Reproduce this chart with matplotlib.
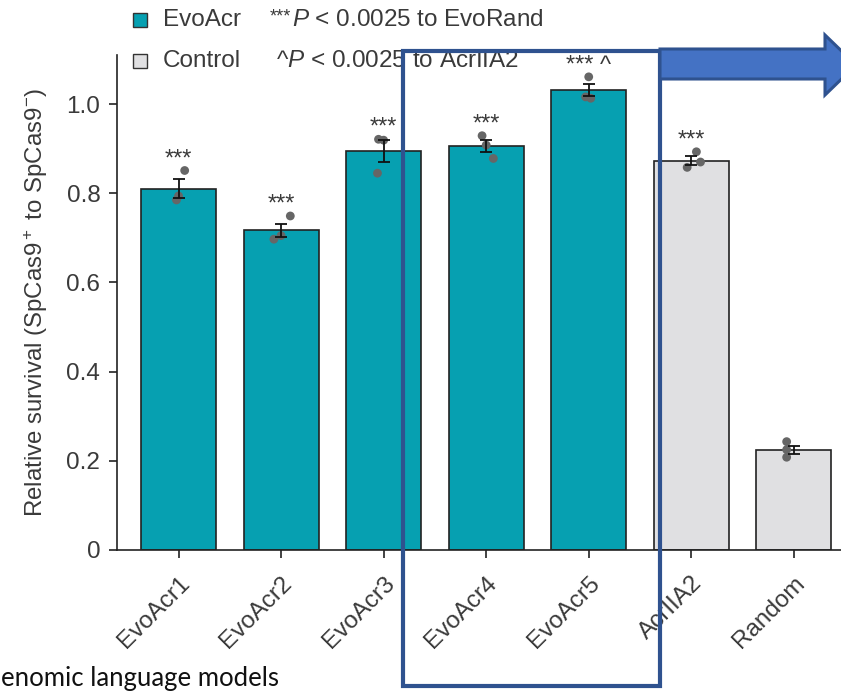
import matplotlib
matplotlib.use('Agg')
import matplotlib.pyplot as plt
from matplotlib.patches import Rectangle, Polygon
import numpy as np

plt.rcParams['font.family'] = ['Liberation Sans', 'DejaVu Sans']
plt.rcParams['mathtext.fontset'] = 'custom'
plt.rcParams['mathtext.rm'] = 'Liberation Sans'
plt.rcParams['mathtext.it'] = 'Liberation Sans:italic'

# dados
nomes = ['EvoAcr1', 'EvoAcr2', 'EvoAcr3', 'EvoAcr4', 'EvoAcr5', 'AcrIIA2', 'Random']
media = [0.810, 0.717, 0.895, 0.906, 1.031, 0.873, 0.224]
erro = [0.021, 0.015, 0.024, 0.014, 0.014, 0.010, 0.009]
replicas = [
    [0.851, 0.785, 0.794],
    [0.749, 0.697, 0.705],
    [0.921, 0.845, 0.919],
    [0.929, 0.878, 0.908],
    [1.061, 1.013, 1.016],
    [0.893, 0.858, 0.870],
    [0.243, 0.208, 0.225],
]
signif = ['***', '***', '***', '***', '*** ^', '***', '']
grupo = ['EvoAcr'] * 5 + ['Control'] * 2

# deslocamento horizontal dos pontos
jitter = [
    [0.06, -0.02, 0.0],
    [0.09, -0.07, 0.0],
    [-0.05, -0.06, 0.0],
    [-0.04, 0.07, 0.0],
    [0.0, 0.02, -0.03],
    [0.05, -0.04, 0.09],
    [-0.07, -0.07, -0.07],
]

cor = {'EvoAcr': '#06a0b1', 'Control': '#e0e0e2'}
texto = '#3a3a3a'

W, H = 841, 691
fig = plt.figure(figsize=(W / 100, H / 100), dpi=100)
ax = fig.add_axes([117 / W, 1 - 550 / H, 1 - 117 / W, (550 - 55) / H])

x = np.arange(len(nomes))
ax.bar(x, media, width=0.73, color=[cor[g] for g in grupo],
       edgecolor='#222222', linewidth=1.2, zorder=2)

for i in range(len(nomes)):
    ax.scatter(x[i] + np.array(jitter[i]), replicas[i], s=40,
               color='#666666', edgecolor='none', zorder=3)

ax.errorbar(x, media, yerr=erro, fmt='none', ecolor='#111111',
            elinewidth=1.3, capsize=4, capthick=1.3, zorder=4)

for i in range(len(nomes)):
    if signif[i]:
        topo = max(max(replicas[i]), media[i] + erro[i])
        ax.text(x[i], topo + 0.012, signif[i], ha='center', va='baseline',
                fontsize=17, color=texto)

ax.set_xlim(-0.6, 6.46)
ax.set_ylim(0, 1.11)
ax.set_yticks([0, 0.2, 0.4, 0.6, 0.8, 1.0])
ax.set_yticklabels(['0', '0.2', '0.4', '0.6', '0.8', '1.0'])
ax.set_xticks(x)
ax.set_xticklabels(nomes, rotation=45, ha='right', rotation_mode='anchor')
ax.tick_params(axis='both', length=6, width=1.2, color='#222222',
               labelsize=17.5, labelcolor=texto)
ax.tick_params(axis='y', pad=6)
ax.tick_params(axis='x', pad=10)
for lado in ['top', 'right']:
    ax.spines[lado].set_visible(False)
for lado in ['left', 'bottom']:
    ax.spines[lado].set_color('#222222')
    ax.spines[lado].set_linewidth(1.2)
ax.set_ylabel(r'Relative survival (SpCas9$^+$ to SpCas9$^{-}$)',
              fontsize=17.3, color=texto, labelpad=12)

# legenda no topo
for yy, g, t1 in [(20, 'EvoAcr', 'EvoAcr'), (61, 'Control', 'Control')]:
    fig.patches.append(Rectangle((133 / W, 1 - (yy + 7) / H), 14 / W, 14 / H,
                                 transform=fig.transFigure, facecolor=cor[g],
                                 edgecolor='#333333', linewidth=1.0))
    fig.text(163 / W, 1 - yy / H, t1, fontsize=17.5, color=texto, va='center')

fig.text(270 / W, 1 - 17 / H, '***', fontsize=13, color=texto, va='center')
fig.text(292 / W, 1 - 20 / H, r'$P$ < 0.0025 to EvoRand', fontsize=17.5,
         color=texto, va='center')
fig.text(276 / W, 1 - 61 / H, r'^$P$ < 0.0025 to AcrIIA2', fontsize=17.5,
         color=texto, va='center')

# caixa azul e seta
fig.patches.append(Rectangle((403 / W, 1 - 686 / H), (660 - 403) / W, (686 - 51) / H,
                             transform=fig.transFigure, facecolor='none',
                             edgecolor='#2f528f', linewidth=3.0, zorder=10))
seta = [(660, 49), (825, 49), (825, 35), (856, 65), (825, 95), (825, 79), (660, 79)]
fig.patches.append(Polygon([(px / W, 1 - py / H) for px, py in seta], closed=True,
                           transform=fig.transFigure, facecolor='#4472c4',
                           edgecolor='#2f528f', linewidth=2.2, zorder=10))

fig.text(1 / W, 1 - 686 / H, 'enomic language models', ha='left', va='baseline',
         fontsize=18.5, family='Lato', color='#111111')

plt.savefig('out.png', dpi=100)
